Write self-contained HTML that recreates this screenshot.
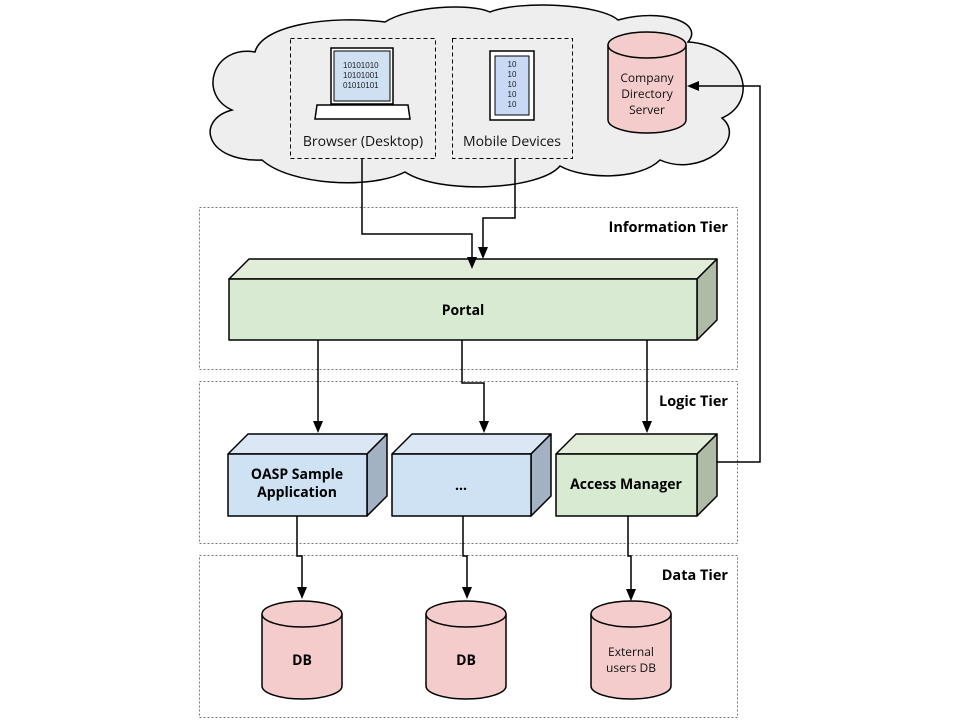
<!DOCTYPE html>
<html><head><meta charset="utf-8"><style>
html,body{margin:0;padding:0;background:#fff}
text{font-family:"Open Sans","DejaVu Sans","Liberation Sans",sans-serif}
</style></head><body>
<svg width="960" height="720" viewBox="0 0 960 720" xmlns="http://www.w3.org/2000/svg">
<path d="M262,160 C205,162 195,120 232,110 C198,95 212,45 255,52 C262,25 330,15 385,22 C410,6 470,3 490,12 C520,0 600,4 618,20 C660,8 705,22 688,42 C742,45 762,100 722,118 C748,140 700,178 660,160 C640,180 585,180 560,166 C540,190 440,195 405,172 C370,190 290,185 262,160 Z" fill="#eeeeee" stroke="#000" stroke-width="1.5"/>
<g fill="none" stroke="#777" stroke-dasharray="2,2" stroke-width="1">
<rect x="199.5" y="207.5" width="538" height="162"/>
<rect x="199.5" y="381.5" width="538" height="162"/>
<rect x="199.5" y="555.5" width="538" height="162"/>
</g>
<g font-weight="bold" font-size="14.5" text-anchor="end" fill="#000">
<text x="728" y="232">Information Tier</text>
<text x="728" y="406">Logic Tier</text>
<text x="728" y="580">Data Tier</text>
</g>
<g fill="none" stroke="#000" stroke-dasharray="4,3" stroke-width="1">
<rect x="290.5" y="38.5" width="145" height="120"/>
<rect x="452.5" y="38.5" width="120" height="120"/>
</g>
<rect x="331" y="48" width="62" height="56" fill="#fff" stroke="#000" stroke-width="1.5"/>
<rect x="334" y="51" width="56" height="50" fill="#cfe0f3" stroke="#000" stroke-width="1"/>
<g font-size="8" fill="#222"><text x="343" y="68" style="font-family:'Liberation Sans'">10101010</text><text x="343" y="78" style="font-family:'Liberation Sans'">10101001</text><text x="343" y="88" style="font-family:'Liberation Sans'">01010101</text></g>
<path d="M315,119 L410,119 L408,105 L317,105 Z" fill="#fff" stroke="#000" stroke-width="1.5"/>
<rect x="490" y="51" width="44" height="69" fill="#fff" stroke="#000" stroke-width="1.5"/>
<rect x="495" y="56" width="34" height="59" fill="#c9d9f5" stroke="#000" stroke-width="1"/>
<g font-size="8" fill="#222" text-anchor="middle"><text x="512" y="67" style="font-family:'Liberation Sans'">10</text><text x="512" y="77" style="font-family:'Liberation Sans'">10</text><text x="512" y="87" style="font-family:'Liberation Sans'">10</text><text x="512" y="97" style="font-family:'Liberation Sans'">10</text><text x="512" y="107" style="font-family:'Liberation Sans'">10</text></g>
<g font-size="14" text-anchor="middle" fill="#111"><text x="363" y="146">Browser (Desktop)</text><text x="512" y="146">Mobile Devices</text></g>
<path d="M608,45 L608,120 A39,13 0 0 0 686,120 L686,45" fill="#f4cccc" stroke="#000" stroke-width="1.5"/>
<ellipse cx="647" cy="45" rx="39" ry="13" fill="#f4cccc" stroke="#000" stroke-width="1.5"/>
<g font-size="12" text-anchor="middle" fill="#111"><text x="647" y="82">Company</text><text x="647" y="98">Directory</text><text x="647" y="114">Server</text></g>
<g stroke="#000" stroke-width="1.5" stroke-linejoin="round">
<path d="M229,279 L249,259 L717,259 L697,279 Z" fill="#e1edd8"/>
<path d="M697,279 L717,259 L717,320 L697,340 Z" fill="#b0bba7"/>
<rect x="229" y="279" width="468" height="61" fill="#d9ead3"/>
<path d="M228,454 L248,434 L387,434 L367,454 Z" fill="#dbe7f4"/>
<path d="M367,454 L387,434 L387,496 L367,516 Z" fill="#a3b2c2"/>
<rect x="228" y="454" width="139" height="62" fill="#cfe2f3"/>
<path d="M392,454 L412,434 L551,434 L531,454 Z" fill="#dbe7f4"/>
<path d="M531,454 L551,434 L551,496 L531,516 Z" fill="#a3b2c2"/>
<rect x="392" y="454" width="139" height="62" fill="#cfe2f3"/>
<path d="M556,454 L576,434 L717,434 L697,454 Z" fill="#e1edd8"/>
<path d="M697,454 L717,434 L717,496 L697,516 Z" fill="#b0bba7"/>
<rect x="556" y="454" width="141" height="62" fill="#d9ead3"/>
</g>
<g font-size="14" font-weight="bold" text-anchor="middle" fill="#000">
<text x="463" y="315">Portal</text>
<text x="297" y="479">OASP Sample</text><text x="297" y="497">Application</text>
<text x="461" y="490">...</text>
<text x="626" y="489">Access Manager</text>
</g>
<g stroke="#000" stroke-width="1.5">
<path d="M262,614 L262,686 A40,13 0 0 0 342,686 L342,614" fill="#f4cccc"/>
<ellipse cx="302" cy="614" rx="40" ry="13" fill="#f4cccc"/>
<path d="M426,614 L426,686 A40,13 0 0 0 506,686 L506,614" fill="#f4cccc"/>
<ellipse cx="466" cy="614" rx="40" ry="13" fill="#f4cccc"/>
<path d="M591,614 L591,686 A40,13 0 0 0 671,686 L671,614" fill="#f4cccc"/>
<ellipse cx="631" cy="614" rx="40" ry="13" fill="#f4cccc"/>
</g>
<g font-size="14" font-weight="bold" text-anchor="middle" fill="#000"><text x="302" y="665">DB</text><text x="466" y="665">DB</text></g>
<g font-size="12" text-anchor="middle" fill="#111"><text x="631" y="656">External</text><text x="631" y="672">users DB</text></g>
<g fill="none" stroke="#000" stroke-width="1.5">
<path d="M362,158 L362,234 L472,234 L472,258"/>
<path d="M515,158 L515,218 L483,218 L483,248"/>
<path d="M318,340 L318,422"/>
<path d="M462,340 L462,383 L484,383 L484,422"/>
<path d="M647,340 L647,422"/>
<path d="M297,516 L297,556 L302,556 L302,588"/>
<path d="M463,516 L463,556 L467,556 L467,588"/>
<path d="M628,516 L628,556 L631,556 L631,590"/>
<path d="M717,462 L760,462 L760,86 L698,86"/>
</g>
<g fill="#000">
<path d="M467,257 L477,257 L472,269 Z"/>
<path d="M478,247 L488,247 L483,259 Z"/>
<path d="M313,421 L323,421 L318,433 Z"/>
<path d="M479,421 L489,421 L484,433 Z"/>
<path d="M642,421 L652,421 L647,433 Z"/>
<path d="M297,587 L307,587 L302,599 Z"/>
<path d="M462,587 L472,587 L467,599 Z"/>
<path d="M626,589 L636,589 L631,601 Z"/>
<path d="M687,86 L699,81 L699,91 Z"/>
</g>
</svg>
</body></html>
